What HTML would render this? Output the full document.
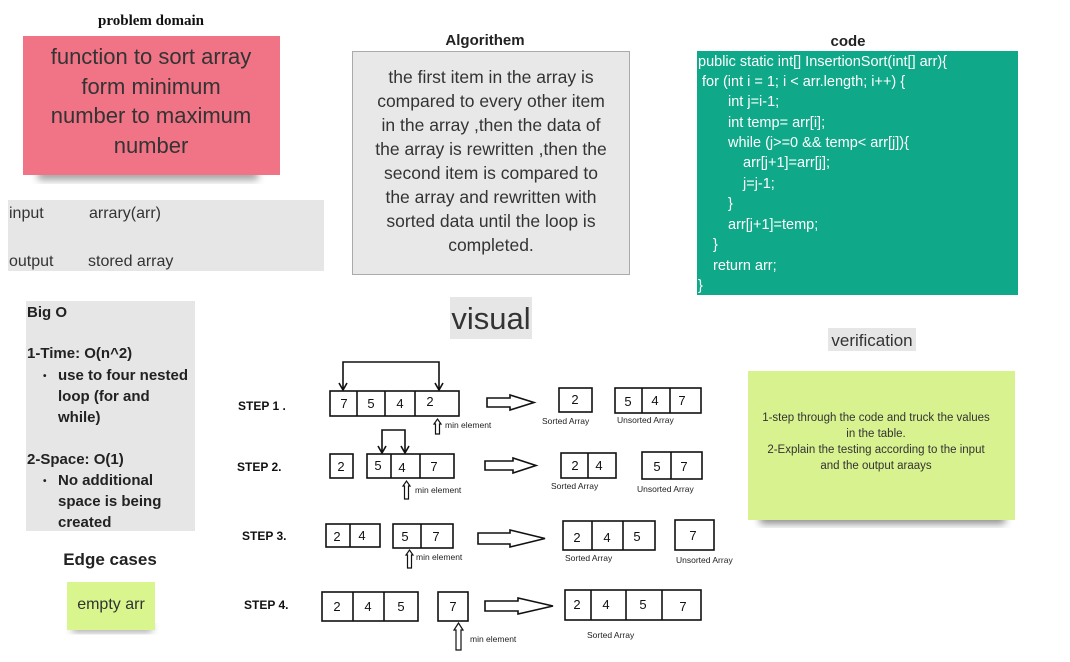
<!DOCTYPE html>
<html><head><meta charset="utf-8"><style>
html,body{margin:0;padding:0;background:#fff;}
svg{display:block;}
</style></head><body>
<svg width="1070" height="662" viewBox="0 0 1070 662" xmlns="http://www.w3.org/2000/svg" font-family="Liberation Sans, DejaVu Sans, sans-serif">
<defs>
<filter id="sh" x="-10%" y="-10%" width="120%" height="140%"><feGaussianBlur stdDeviation="4"/></filter>
</defs>
<!-- problem domain -->
<text x="151" y="25" text-anchor="middle" font-family="Liberation Serif, serif" font-weight="bold" font-size="15" fill="#111">problem domain</text>
<rect x="38" y="168" width="220" height="12" fill="#444" opacity="0.5" filter="url(#sh)"/>
<rect x="23" y="36" width="257" height="139" fill="#f07485"/>
<g font-size="22" fill="#333" text-anchor="middle">
<text x="151" y="64">function to sort array</text>
<text x="151" y="94">form minimum</text>
<text x="151" y="123">number to maximum</text>
<text x="151" y="153">number</text>
</g>
<rect x="8" y="200" width="316" height="71" fill="#e6e6e6"/>
<g font-size="16" fill="#333">
<text x="9" y="218">input</text><text x="89" y="218">arrary(arr)</text>
<text x="9" y="266">output</text><text x="88" y="266">stored array</text>
</g>
<!-- algorithm -->
<text x="485" y="45" text-anchor="middle" font-weight="bold" font-size="15" fill="#222">Algorithem</text>
<rect x="352.5" y="51.5" width="277" height="223" fill="#e8e8e8" stroke="#aaa"/>
<g font-size="17.5" fill="#333" text-anchor="middle">
<text x="491" y="83">the first item in the array is</text>
<text x="491" y="107">compared to every other item</text>
<text x="491" y="131">in the array ,then the data of</text>
<text x="491" y="155">the array is rewritten ,then the</text>
<text x="491" y="179">second item is compared to</text>
<text x="491" y="203">the array and rewritten with</text>
<text x="491" y="227">sorted data until the loop is</text>
<text x="491" y="251">completed.</text>
</g>
<!-- code -->
<text x="848" y="46" text-anchor="middle" font-weight="bold" font-size="15" fill="#222">code</text>
<rect x="697" y="51" width="321" height="244" fill="#0fa98a"/>
<g font-size="14.5" fill="#fff">
<text x="698" y="66">public static int[] InsertionSort(int[] arr){</text>
<text x="702" y="86">for (int i = 1; i &lt; arr.length; i++) {</text>
<text x="728" y="106">int j=i-1;</text>
<text x="728" y="127">int temp= arr[i];</text>
<text x="728" y="147">while (j&gt;=0 &amp;&amp; temp&lt; arr[j]){</text>
<text x="743" y="167">arr[j+1]=arr[j];</text>
<text x="743" y="188">j=j-1;</text>
<text x="728" y="208">}</text>
<text x="728" y="229">arr[j+1]=temp;</text>
<text x="713" y="249">}</text>
<text x="713" y="270">return arr;</text>
<text x="698" y="290">}</text>
</g>
<!-- Big O -->
<rect x="26" y="301" width="169" height="230" fill="#e6e6e6"/>
<g font-size="15" fill="#222" font-weight="bold">
<text x="27" y="317">Big O</text>
<text x="27" y="358">1-Time: O(n^2)</text>
<text x="43" y="379" font-size="10">•</text>
<text x="58" y="380">use to four nested</text>
<text x="58" y="401">loop (for and</text>
<text x="58" y="422">while)</text>
<text x="27" y="464">2-Space: O(1)</text>
<text x="43" y="484" font-size="10">•</text>
<text x="58" y="485">No additional</text>
<text x="58" y="506">space is being</text>
<text x="58" y="527">created</text>
</g>
<text x="110" y="565" text-anchor="middle" font-weight="bold" font-size="17" fill="#222">Edge cases</text>
<rect x="72" y="624" width="80" height="8" fill="#444" opacity="0.5" filter="url(#sh)"/>
<rect x="67" y="582" width="88" height="48" fill="#d8f58e"/>
<text x="111" y="609" text-anchor="middle" font-size="16" fill="#333">empty arr</text>
<!-- visual -->
<rect x="450" y="297" width="82" height="42" fill="#e6e6e6"/>
<text x="491" y="329" text-anchor="middle" font-size="31" fill="#333">visual</text>
<!-- verification -->
<rect x="828" y="328" width="88" height="23" fill="#e6e6e6"/>
<text x="872" y="346" text-anchor="middle" font-size="17" fill="#333">verification</text>
<rect x="760" y="512" width="245" height="12" fill="#333" opacity="0.55" filter="url(#sh)"/>
<rect x="748" y="371" width="267" height="149" fill="#d9f290"/>
<g font-size="11.5" fill="#333" text-anchor="middle">
<text x="876" y="421">1-step through the code and truck the values</text>
<text x="876" y="437">in the table.</text>
<text x="876" y="453">2-Explain the testing according to the input</text>
<text x="876" y="469">and the output araays</text>
</g>
<!-- steps -->
<g fill="none" stroke="#111" stroke-width="1.6">
<rect x="330" y="391" width="129" height="25"/><line x1="357" y1="391" x2="357" y2="416"/><line x1="385" y1="391" x2="385" y2="416"/><line x1="415" y1="391" x2="415" y2="416"/>
<path d="M343 389 V362 H439 V389 M339 383 L343 390 L347 383 M435 383 L439 390 L443 383"/>
<path d="M487 398 H510 V395 L534 402.5 L510 410 V407 H487 Z"/>
<rect x="559" y="388" width="33" height="24"/>
<rect x="615" y="388" width="86" height="25"/><line x1="642" y1="388" x2="642" y2="413"/><line x1="670" y1="388" x2="670" y2="413"/>
<path d="M435.5 434 V424 H434 L437.5 419 L441 424 H439.5 V434 Z" stroke-width="1.2"/>
<rect x="330" y="454" width="23" height="24"/>
<rect x="367" y="454" width="87" height="24"/><line x1="391" y1="454" x2="391" y2="478"/><line x1="420" y1="454" x2="420" y2="478"/>
<path d="M382 452 V430 H405 V452 M378 446 L382 453 L386 446 M401 446 L405 453 L409 446"/>
<path d="M485 461 H513 V458 L536 465.5 L513 473 V470 H485 Z"/>
<rect x="561" y="453" width="55" height="25"/><line x1="588" y1="453" x2="588" y2="478"/>
<rect x="642" y="452" width="60" height="27"/><line x1="671" y1="452" x2="671" y2="479"/>
<path d="M404.5 499 V486 H403 L406.5 481 L410 486 H408.5 V499 Z" stroke-width="1.2"/>
<rect x="326" y="524" width="54" height="23"/><line x1="350" y1="524" x2="350" y2="547"/>
<rect x="393" y="524" width="60" height="24"/><line x1="421" y1="524" x2="421" y2="548"/>
<path d="M478 533 H510 V530 L545 538.5 L510 547 V544 H478 Z"/>
<rect x="563" y="521" width="92" height="29"/><line x1="592" y1="521" x2="592" y2="550"/><line x1="623" y1="521" x2="623" y2="550"/>
<rect x="675" y="520" width="39" height="30"/>
<path d="M407.5 568 V555 H406 L409.5 550 L413 555 H411.5 V568 Z" stroke-width="1.2"/>
<rect x="322" y="592" width="96" height="29"/><line x1="353" y1="592" x2="353" y2="621"/><line x1="384" y1="592" x2="384" y2="621"/>
<rect x="438" y="592" width="30" height="29"/>
<path d="M485 601 H518 V598 L553 606 L518 614 V611 H485 Z"/>
<rect x="565" y="590" width="136" height="30"/><line x1="591" y1="590" x2="591" y2="620"/><line x1="626" y1="590" x2="626" y2="620"/><line x1="662" y1="590" x2="662" y2="620"/>
<path d="M456 650 V630 H454 L458.5 623 L463 630 H461 V650 Z" stroke-width="1.2"/>
</g>
<g fill="#111" font-size="13" text-anchor="middle">
<text x="344" y="408">7</text><text x="371" y="408">5</text><text x="400" y="408">4</text><text x="430" y="406">2</text>
<text x="575" y="404">2</text><text x="628" y="406">5</text><text x="655" y="405">4</text><text x="682" y="405">7</text>
<text x="341" y="471">2</text><text x="378" y="470">5</text><text x="402" y="472">4</text><text x="434" y="471">7</text>
<text x="575" y="470">2</text><text x="599" y="470">4</text><text x="657" y="471">5</text><text x="684" y="471">7</text>
<text x="337" y="541">2</text><text x="362" y="540">4</text><text x="405" y="541">5</text><text x="436" y="541">7</text>
<text x="577" y="542">2</text><text x="607" y="542">4</text><text x="637" y="541">5</text><text x="693" y="540">7</text>
<text x="337" y="611">2</text><text x="368" y="611">4</text><text x="401" y="611">5</text><text x="453" y="611">7</text>
<text x="577" y="609">2</text><text x="606" y="609">4</text><text x="643" y="609">5</text><text x="683" y="611">7</text>
</g>
<g fill="#111" font-size="12" font-weight="bold">
<text x="238" y="410">STEP 1 .</text>
<text x="237" y="471">STEP 2.</text>
<text x="242" y="540">STEP 3.</text>
<text x="244" y="609">STEP 4.</text>
</g>
<g fill="#222" font-size="8.5">
<text x="445" y="428">min element</text>
<text x="415" y="493">min element</text>
<text x="416" y="560">min element</text>
<text x="470" y="642">min element</text>
<text x="542" y="424">Sorted Array</text>
<text x="617" y="423">Unsorted Array</text>
<text x="551" y="489">Sorted Array</text>
<text x="637" y="492">Unsorted Array</text>
<text x="565" y="561">Sorted Array</text>
<text x="676" y="563">Unsorted Array</text>
<text x="587" y="638">Sorted Array</text>
</g>
</svg>
</body></html>
